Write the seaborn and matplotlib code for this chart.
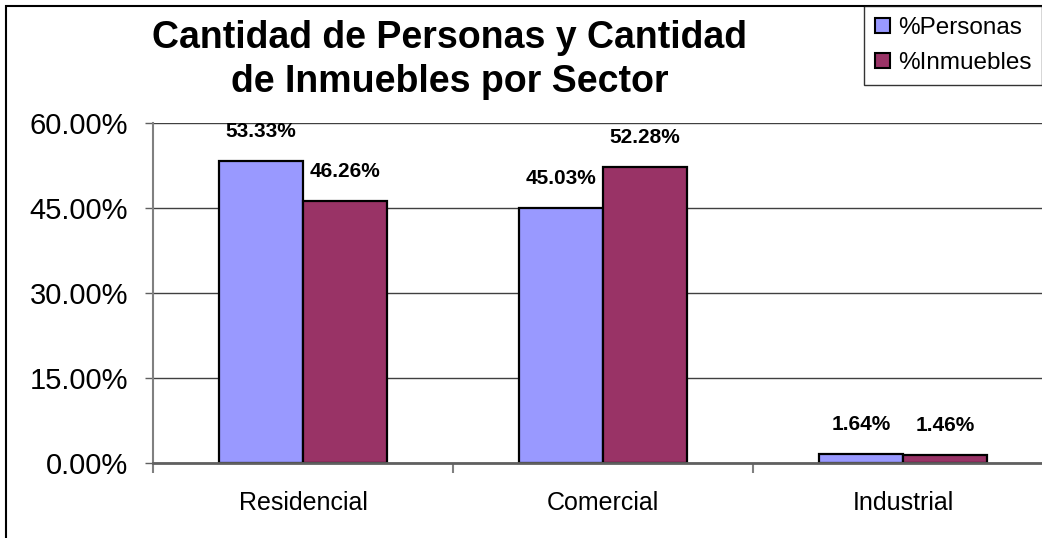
import pandas as pd
import seaborn as sns
import matplotlib.pyplot as plt
from matplotlib.patches import Rectangle
from matplotlib.ticker import FuncFormatter, FixedLocator

# data
sectores = ["Residencial", "Comercial", "Industrial"]
personas = [53.33, 45.03, 1.64]
inmuebles = [46.26, 52.28, 1.46]
series = ["%Personas", "%Inmuebles"]
colores = ["#9999FF", "#993366"]

df = pd.DataFrame({
    "Sector": sectores * 2,
    "Serie": [series[0]] * 3 + [series[1]] * 3,
    "Valor": personas + inmuebles,
})

sns.set_theme(style="white")
plt.rcParams["font.family"] = ["Liberation Sans", "DejaVu Sans"]
plt.rcParams["text.color"] = "black"
plt.rcParams["xtick.color"] = "black"
plt.rcParams["ytick.color"] = "black"

W, H = 1042, 538
fig = plt.figure(figsize=(W / 100, H / 100), dpi=100)
fig.patch.set_facecolor("white")

# plot area in pixel terms: y axis at x=153, zero at y=463, 60% at y=123
ax = fig.add_axes([153 / W, 1 - 463 / H, 900 / W, 340 / H])

sns.barplot(data=df, x="Sector", y="Valor", hue="Serie", palette=colores,
            width=0.56, edgecolor="black", linewidth=1.6, saturation=1,
            ax=ax, legend=False)

ax.set_xlim(-0.5, 2.5)
ax.set_ylim(0, 60)
ax.set_yticks([0, 15, 30, 45, 60])
ax.yaxis.set_major_formatter(FuncFormatter(lambda v, p: f"{v:.2f}%"))
ax.yaxis.grid(True, color="#404040", linewidth=1)
ax.set_axisbelow(True)

for s in ["top", "right"]:
    ax.spines[s].set_visible(False)
ax.spines["left"].set_color("#808080")
ax.spines["left"].set_linewidth(1.5)
ax.spines["bottom"].set_color("#606060")
ax.spines["bottom"].set_linewidth(2)

ax.tick_params(axis="y", which="major", length=6, width=1, color="#606060",
               direction="out", left=True, labelsize=21, pad=12)
ax.tick_params(axis="x", which="major", length=0, labelsize=18, pad=20)
ax.xaxis.set_minor_locator(FixedLocator([-0.5, 0.5, 1.5]))
ax.tick_params(axis="x", which="minor", length=7, width=1.5, color="#808080",
               direction="out", bottom=True)
ax.set_xlabel("")
ax.set_ylabel("")

for cont in ax.containers:
    ax.bar_label(cont, labels=[f"{v:.2f}%" for v in cont.datavalues],
                 padding=14, fontsize=15, fontweight="bold", color="black")

fig.text(450 / W, 1 - 60 / H,
         "Cantidad de Personas y Cantidad\nde Inmuebles por Sector",
         ha="center", va="center", fontsize=27, fontweight="bold",
         linespacing=1.25, color="black")

# legend box in the top right corner
handles = [Rectangle((0, 0), 1, 1, facecolor=c, edgecolor="black", linewidth=1.5)
           for c in colores]
leg = fig.legend(handles, series, loc="upper left",
                 bbox_to_anchor=(864 / W, 1 - 6 / H), fontsize=17.5,
                 frameon=True, fancybox=False, edgecolor="black",
                 handlelength=0.6, handleheight=0.6, handletextpad=0.35,
                 labelspacing=0.55, borderpad=0.45, borderaxespad=0)
leg.get_frame().set_linewidth(1)

# outer chart border, cut by the right and bottom edges
fig.patches.append(Rectangle((6 / W, -0.2), 1.2, 1.2 - 6 / H, fill=False,
                             edgecolor="black", linewidth=1.5,
                             transform=fig.transFigure, figure=fig))

fig.savefig("out.png", dpi=100)
